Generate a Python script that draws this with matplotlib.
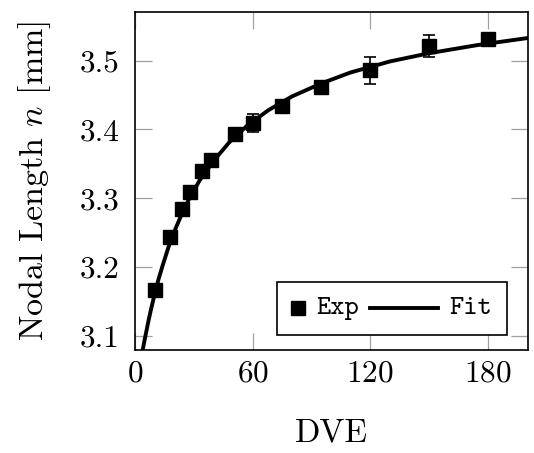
import matplotlib
matplotlib.use("Agg")
import matplotlib.pyplot as plt
from matplotlib.lines import Line2D
from matplotlib.offsetbox import DrawingArea, TextArea, HPacker, AnchoredOffsetbox

plt.rcParams['font.family'] = 'serif'
plt.rcParams['font.serif'] = ['cmr10', 'DejaVu Serif']
plt.rcParams['mathtext.fontset'] = 'cm'
plt.rcParams['axes.formatter.use_mathtext'] = True

# measured points (DVE, nodal length, error)
dve = [10, 18, 24, 28, 34, 39, 51, 60, 75, 95, 120, 150, 180]
nodal = [3.166, 3.243, 3.284, 3.309, 3.340, 3.356, 3.393, 3.410, 3.434, 3.462, 3.486, 3.521, 3.531]
err = [0.003, 0.003, 0.003, 0.003, 0.004, 0.003, 0.003, 0.013, 0.003, 0.003, 0.020, 0.016, 0.010]

# fit curve
fit_x = [3, 4, 5, 6, 7, 8, 10, 12, 14, 17, 20, 24, 28, 33, 40, 48, 57, 68, 80, 95, 110, 130, 150, 175, 200, 205]
fit_y = [3.063, 3.080, 3.095, 3.109, 3.123, 3.136, 3.160, 3.182, 3.201, 3.228, 3.251, 3.278, 3.301, 3.326,
         3.354, 3.381, 3.405, 3.428, 3.448, 3.467, 3.483, 3.499, 3.511, 3.523, 3.533, 3.535]

fig = plt.figure(figsize=(5.34, 4.53), dpi=100)
ax = fig.add_axes([0.2528, 0.2274, 0.736, 0.7461])

ax.plot(fit_x, fit_y, '-', color='black', lw=2.8, zorder=2)
ax.errorbar(dve, nodal, yerr=err, fmt='none', ecolor='black', elinewidth=1.2, capsize=4, capthick=1.2, zorder=3)
ax.plot(dve, nodal, 's', color='black', ms=10.5, ls='none', zorder=4)

ax.set_xlim(0, 200.5)
ax.set_ylim(3.079, 3.571)
ax.set_xticks([0, 60, 120, 180])
ax.set_yticks([3.1, 3.2, 3.3, 3.4, 3.5])
ax.set_yticklabels(['3.1', '3.2', '3.3', '3.4', '3.5'])
ax.tick_params(direction='in', length=12, width=0.9, color='#a0a0a0', top=True, right=True,
               labelsize=22.5)
ax.tick_params(axis='x', pad=7)
ax.tick_params(axis='y', pad=11)
for s in ax.spines.values():
    s.set_linewidth(1.2)

ax.set_xlabel('DVE', fontsize=24, labelpad=22)
ax.set_ylabel('Nodal Length $n$ [mm]', fontsize=24.5, labelpad=19)

# legend: marker + Exp, line + Fit
tp = dict(family='cmtt10', size=19.5)
da1 = DrawingArea(10, 12, 0, 0)
da1.add_artist(Line2D([5], [6], marker='s', ms=10, color='black', ls='none'))
da2 = DrawingArea(49, 12, 0, 0)
da2.add_artist(Line2D([0, 49], [6, 6], lw=2.8, color='black'))
row = HPacker(children=[da1, TextArea('Exp', textprops=tp), da2, TextArea('Fit', textprops=tp)],
              align='center', pad=0, sep=8)
box = AnchoredOffsetbox(loc='lower right', child=row, pad=0.6, borderpad=0, frameon=True,
                        bbox_to_anchor=(0.9473, 0.0444), bbox_transform=ax.transAxes, prop=dict(size=18))
box.patch.set_boxstyle('square,pad=0')
box.patch.set_edgecolor('black')
box.patch.set_linewidth(1.2)
ax.add_artist(box)

fig.savefig('out.png', dpi=100)
